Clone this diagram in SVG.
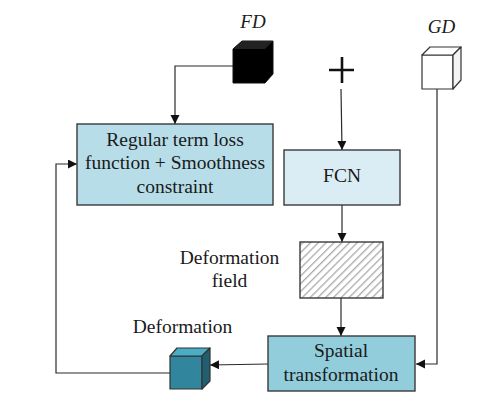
<svg xmlns="http://www.w3.org/2000/svg" width="480" height="405" viewBox="0 0 480 405">
<style>
text{font-family:"Liberation Serif","Times New Roman",serif;fill:#1a1a1a;text-anchor:middle}
.t{font-size:19.5px}
.i{font-size:19px;font-style:italic}
.box{stroke:#3a3a3a;stroke-width:1.4}
.c{fill:none;stroke:#2a2a2a;stroke-width:1.2;marker-end:url(#a)}
.e{stroke:#333;stroke-width:1.2;stroke-linejoin:round}
</style>
<defs>
<marker id="a" markerUnits="userSpaceOnUse" markerWidth="10" markerHeight="10" refX="9" refY="4.500" orient="auto"><path d="M0 0L9 4.500L0 9z" fill="#111"/></marker>
<pattern id="h" patternUnits="userSpaceOnUse" width="5.500" height="5.500" patternTransform="rotate(45)"><rect width="5.500" height="5.500" fill="#fff"/><rect width="1.300" height="5.500" fill="#aaa"/></pattern>
</defs>
<g id="connectors">
<path class="c" d="M233 66H175V124"/>
<path class="c" d="M341 89L342 150"/>
<path class="c" d="M342 205V242"/>
<path class="c" d="M341 298V336"/>
<path class="c" d="M437 89V364H416"/>
<path class="c" d="M268 364L210 365"/>
<path class="c" d="M170 373H56V164H77"/>
</g>
<g id="node-fd"><text class="i" x="253" y="28">FD</text>
<path d="M233 49L242 41H273V74L265 83H233z" fill="#000" stroke="#111"/><path d="M233 49L242 41H273L265 49z" fill="#222"/></g>
<g id="node-plus"><path d="M342 57V83M329 70H354" stroke="#111" stroke-width="2.600" fill="none"/></g>
<g id="node-gd"><text class="i" x="441.500" y="33">GD</text>
<path class="e" d="M422 55H453V89H422z" fill="#fff"/><path class="e" d="M422 55L430 47H461L453 55z" fill="#fff"/><path class="e" d="M453 55L461 47V80L453 89z" fill="#f4f4f4"/></g>
<g id="node-regular"><rect class="box" x="77" y="124" width="196" height="81" fill="#b7dde9"/>
<text class="t" x="175" y="146">Regular term loss</text><text class="t" x="175" y="169">function + Smoothness</text><text class="t" x="175" y="193">constraint</text></g>
<g id="node-fcn"><rect class="box" x="284" y="150" width="116" height="55" fill="#daedf4"/><text class="t" x="342" y="182">FCN</text></g>
<g id="node-field"><rect class="box" x="300" y="242" width="83" height="56" fill="url(#h)"/>
<text class="t" x="229.500" y="264">Deformation</text><text class="t" x="229.500" y="287">field</text></g>
<g id="node-spatial"><rect class="box" x="268" y="336" width="147" height="55" fill="#92cddc"/>
<text class="t" x="341" y="357">Spatial</text><text class="t" x="341" y="381">transformation</text></g>
<g id="node-deformation"><text class="t" x="182.500" y="333">Deformation</text>
<path class="e" d="M170 356H202V389H170z" fill="#31859c"/><path class="e" d="M170 356L177 348H210L202 356z" fill="#4bacc6"/><path class="e" d="M202 356L210 348V381L202 389z" fill="#215f70"/></g>
</svg>
